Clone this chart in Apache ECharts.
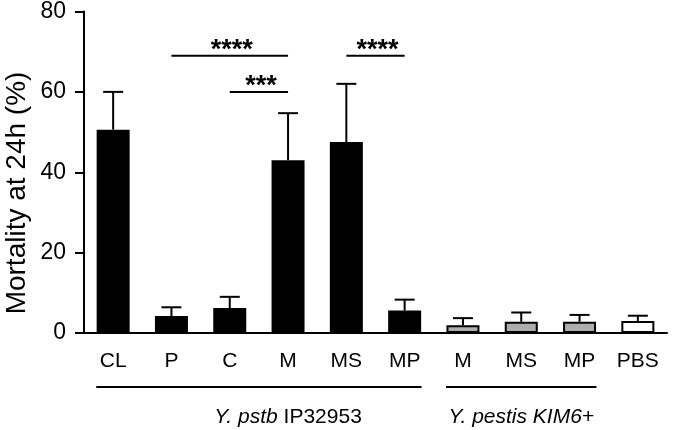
<!DOCTYPE html>
<html>
<head>
<meta charset="utf-8">
<script src="https://cdn.jsdelivr.net/npm/echarts@6/dist/echarts.min.js"></script>
<style>
  html, body { margin: 0; padding: 0; background: #fff; }
  #chart { width: 677px; height: 430px; }
</style>
</head>
<body>
<div id="chart"></div>
<script>
    // categories along x
    var categories = ['CL', 'P', 'C', 'M', 'MS', 'MP', 'M', 'MS', 'MP', 'PBS'];
    // mean mortality (%) and upper end of error bar
    var means = [50.6, 4.2, 6.2, 43.0, 47.5, 5.6, 1.9, 2.8, 2.8, 3.0];
    var errTop = [60.0, 6.4, 9.0, 54.7, 62.0, 8.3, 3.7, 5.1, 4.5, 4.3];
    // bar fill per group: 0 = pstb, 1 = pestis, 2 = PBS
    var barGroup = [0, 0, 0, 0, 0, 0, 1, 1, 1, 2];
    var yTicks = [0, 20, 40, 60, 80];
    // significance: [from, to, y level, stars]
    var sigFrom = [1, 2, 4];
    var sigTo = [3, 3, 5];
    var sigLevel = [69, 60, 69];
    var sigText = ['****', '***', '****'];
    // strain groups under the axis
    var groupFrom = [0, 6];
    var groupTo = [5, 8];
    var groupName = ['{i|Y. pstb} IP32953', '{i|Y. pestis KIM6+}'];

    var fills = ['#000000', '#adadad', '#ffffff'];
    var font = 'Liberation Sans, Arial, sans-serif';

    var myChart = echarts.init(document.getElementById('chart'));

    var option = {
        animation: false,
        grid: {left: 84, right: 10, top: 11, bottom: 97},
        xAxis: {
            type: 'category',
            data: categories,
            axisLine: {lineStyle: {color: '#000', width: 2}},
            axisTick: {alignWithLabel: true, length: 9, lineStyle: {color: '#000', width: 2}},
            axisLabel: {color: '#000', fontSize: 21, fontFamily: font, margin: 18}
        },
        yAxis: {
            type: 'value',
            min: yTicks[0],
            max: yTicks[yTicks.length - 1],
            interval: 20,
            axisLine: {show: true, lineStyle: {color: '#000', width: 2}},
            axisTick: {show: true, length: 9, lineStyle: {color: '#000', width: 2}},
            axisLabel: {color: '#000', fontSize: 23, fontFamily: font, margin: 18},
            splitLine: {show: false}
        },
        graphic: [{
            type: 'text',
            x: 17,
            y: 193,
            rotation: Math.PI / 2,
            style: {
                text: 'Mortality at 24h (%)',
                font: '28px ' + font,
                fill: '#000',
                align: 'center',
                verticalAlign: 'middle'
            }
        }],
        series: [
            {
                name: 'mortality',
                type: 'bar',
                barWidth: 33,
                data: means.map(function (v, i) {
                    return {
                        value: v,
                        itemStyle: {color: fills[barGroup[i]], borderColor: '#000', borderWidth: barGroup[i] ? 2 : 0}
                    };
                }),
                z: 2
            },
            {
                name: 'error',
                type: 'custom',
                z: 3,
                data: means.map(function (v, i) { return [i, v, errTop[i]]; }),
                renderItem: function (params, api) {
                    var base = api.coord([api.value(0), api.value(1)]);
                    var top = api.coord([api.value(0), api.value(2)]);
                    return {
                        type: 'group',
                        children: [
                            {type: 'line', shape: {x1: base[0], y1: base[1], x2: top[0], y2: top[1]}, style: {stroke: '#000', lineWidth: 2}},
                            {type: 'line', shape: {x1: top[0] - 10, y1: top[1], x2: top[0] + 10, y2: top[1]}, style: {stroke: '#000', lineWidth: 2}}
                        ]
                    };
                }
            },
            {
                name: 'significance',
                type: 'custom',
                z: 3,
                data: sigFrom.map(function (f, i) { return [f, sigTo[i], sigLevel[i], i]; }),
                renderItem: function (params, api) {
                    var a = api.coord([api.value(0), api.value(2)]);
                    var b = api.coord([api.value(1), api.value(2)]);
                    return {
                        type: 'group',
                        children: [
                            {type: 'line', shape: {x1: a[0], y1: a[1], x2: b[0], y2: b[1]}, style: {stroke: '#000', lineWidth: 2}},
                            {
                                type: 'text',
                                style: {
                                    text: sigText[api.value(3)],
                                    x: (a[0] + b[0]) / 2 + 2,
                                    y: a[1] - 5,
                                    font: 'bold 27px ' + font,
                                    fill: '#000',
                                    align: 'center',
                                    verticalAlign: 'middle'
                                }
                            }
                        ]
                    };
                }
            },
            {
                name: 'groups',
                type: 'custom',
                clip: false,
                z: 3,
                data: groupFrom.map(function (f, i) { return [f, groupTo[i], i]; }),
                renderItem: function (params, api) {
                    var half = api.size([1, 0])[0] * 0.29;
                    var a = api.coord([api.value(0), 0]);
                    var b = api.coord([api.value(1), 0]);
                    var y = a[1] + 54;
                    var x1 = a[0] - half, x2 = b[0] + half;
                    var idx = api.value(2);
                    var cx = idx === 0 ? api.coord([3, 0])[0] : (x1 + x2) / 2;
                    return {
                        type: 'group',
                        children: [
                            {type: 'line', shape: {x1: x1, y1: y, x2: x2, y2: y}, style: {stroke: '#000', lineWidth: 2}},
                            {
                                type: 'text',
                                style: {
                                    text: groupName[idx],
                                    x: cx,
                                    y: y + 30,
                                    font: '21px ' + font,
                                    fill: '#000',
                                    align: 'center',
                                    verticalAlign: 'middle',
                                    rich: {i: {fontStyle: 'italic', fontSize: 21, fontFamily: font}}
                                }
                            }
                        ]
                    };
                }
            }
        ]
    };
    myChart.setOption(option);
</script>
</body>
</html>
